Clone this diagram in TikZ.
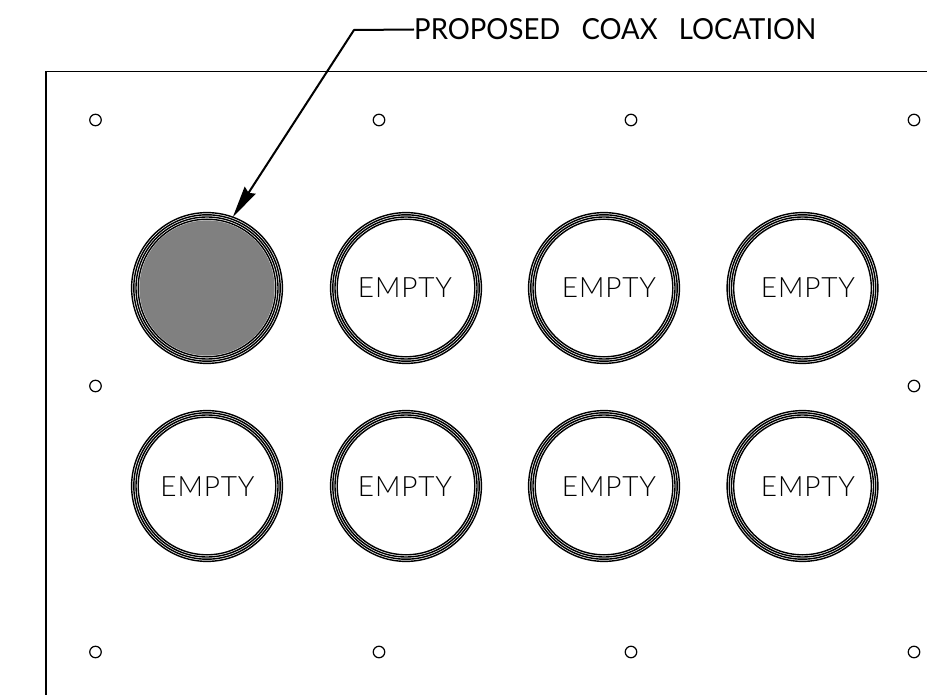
\documentclass[tikz,border=0pt]{standalone}
\usepackage{fontspec}
\setmainfont[LetterSpace=3,WordSpace=1.8]{Lato Light}
\newfontfamily\lblfont[FakeStretch=0.95,WordSpace=3]{Lato}
\usetikzlibrary{arrows.meta}
\tikzset{
  px/.style={x=1pt,y=-1pt},
  hole/.style={circle,draw=black,line width=1.2pt,minimum size=11.5pt,inner sep=0pt,outer sep=0pt},
  coax/.style={circle,draw=black,line width=1.4pt,minimum size=150.8pt,inner sep=0pt,outer sep=0pt},
  emptytext/.style={inner sep=0pt,font=\fontsize{28}{28}\selectfont},
  ring/.style={draw=black,line width=1.4pt},
  panel/.style={draw=black,line width=1.2pt},
  leader/.style={draw=black,line width=2pt,-{Stealth[length=32pt,width=13pt,inset=3pt]},line join=round}
}
\newcommand{\ringset}[1]{%
  \draw[ring] (#1) circle[radius=73.2pt];
  \draw[ring] (#1) circle[radius=71.0pt];
  \draw[ring] (#1) circle[radius=68.8pt];
}
\begin{document}
\begin{tikzpicture}[px]
\useasboundingbox (0,0) rectangle (927,695);
\coordinate (pA) at (927,71.5);
\coordinate (pB) at (46,71.5);
\coordinate (pC) at (46,695);
\draw[panel] (pA) -- (pB) -- (pC);
% mounting holes
\foreach \n/\x/\y in {h1/95.5/120,h2/379/120,h3/631/120,h4/914/120,h5/95.5/386,h6/914/386,h7/95.5/652,h8/379/652,h9/631/652,h10/914/652}
  \node[hole] (\n) at (\x,\y) {};
% connectors
\fill[fill=black!50] (207,288) circle[radius=67.6pt];
\foreach \n/\x/\y in {c1/207/288,c2/406/288,c3/604/288,c4/802.5/288,c5/207/486,c6/406/486,c7/604/486,c8/802.5/486}{
  \node[coax] (\n) at (\x,\y) {};
  \ringset{\n}
}
\foreach \n/\x/\y in {t2/405/287.5,t3/609/287.5,t4/808/287.5,t5/207.5/487,t6/405/487,t7/609/487,t8/808/487}
  \node[emptytext] (\n) at (\x,\y) {EMPTY};
% label
\node[anchor=west,inner sep=0pt,font=\lblfont\fontsize{29}{29}\selectfont] (lbl) at (414,29.5) {PROPOSED COAX LOCATION};
\coordinate (elbow) at (354,30);
\draw[leader] (lbl.west) -- (elbow) -- (c1.70);
\end{tikzpicture}
\end{document}
